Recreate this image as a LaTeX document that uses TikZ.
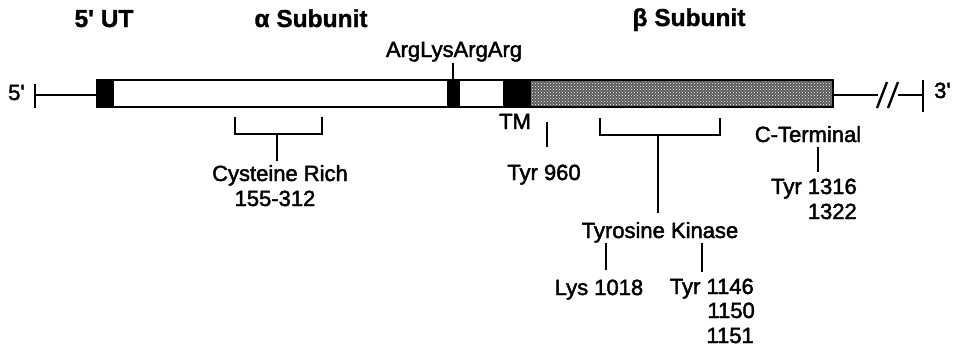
\documentclass[tikz,border=0pt]{standalone}
\usepackage{fontspec}
\setmainfont{Liberation Sans}
\newfontfamily\lblfont{Liberation Sans}[FakeBold=2]
\newfontfamily\hdrfont{Liberation Sans Bold}[FakeBold=1.2]
\usetikzlibrary{patterns}
\begin{document}
\begin{tikzpicture}[x=1pt,y=-1pt,
  lbl/.style={inner sep=0pt,font=\lblfont\fontsize{22}{25}\selectfont},
  hdr/.style={inner sep=0pt,font=\hdrfont\fontsize{24.5}{27}\selectfont},
  tick/.style={line width=2pt},
  barline/.style={line width=2.6pt},
  blk/.style={fill=black},
  stip/.style={preaction={fill=black!65},pattern=crosshatch dots,pattern color=white}]
\useasboundingbox (0,0) rectangle (957,349);
% headers
\node[hdr,anchor=base] (ut) at (104,27) {5' UT};
\node[hdr,anchor=base] (alpha) at (311,27) {α Subunit};
\node[hdr,anchor=base] (beta) at (689,26) {β Subunit};
% ends
\node[lbl,anchor=base west] (five) at (8,100) {5'};
\node[lbl,anchor=base west] (three) at (934,98) {3'};
% backbone
\coordinate (t5a) at (35,84);
\coordinate (t5b) at (35,108);
\coordinate (t5m) at (35,95);
\coordinate (barL) at (97,95);
\coordinate (barR) at (833,95);
\coordinate (s1) at (878,95);
\coordinate (s2) at (898,95);
\coordinate (t3m) at (923,95);
\coordinate (t3a) at (923,80);
\coordinate (t3b) at (923,112);
\draw[tick] (t5a) -- (t5b);
\draw[tick] (t5m) -- (barL);
\draw[tick] (barR) -- (s1);
\draw[tick,line width=2.4pt] (877,108) -- (887,82);
\draw[tick,line width=2.4pt] (888,108) -- (898,82);
\draw[tick] (s2) -- (t3m);
\draw[tick] (t3a) -- (t3b);
% bar
\fill[white] (97,80) rectangle (833,107);
\fill[blk] (97,80) rectangle (114,107);
\fill[blk] (447,80) rectangle (460,107);
\fill[blk] (503,80) rectangle (531,107);
\path[stip] (531,80) rectangle (833,107);
\draw[barline] (97,80) rectangle (833,107);
% ArgLysArgArg
\node[lbl,anchor=base] (arg) at (454,57) {ArgLysArgArg};
\coordinate (argb) at (453,80);
\draw[tick] (453,63) -- (argb);
% TM
\node[lbl,anchor=base] (tm) at (515,129) {TM};
% Cysteine rich
\coordinate (c1) at (235,117);
\coordinate (c2) at (235,134);
\coordinate (c3) at (322,134);
\coordinate (c4) at (322,117);
\coordinate (cs) at (277,134);
\coordinate (cse) at (277,161);
\draw[tick] (c1) -- (c2) -- (c3) -- (c4);
\draw[tick] (cs) -- (cse);
\node[lbl,anchor=base] (cys) at (280,181) {Cysteine Rich};
\node[lbl,anchor=base] (cysn) at (275,206) {155-312};
% Tyr 960
\coordinate (y960a) at (547,122);
\coordinate (y960b) at (547,147);
\draw[tick] (y960a) -- (y960b);
\node[lbl,anchor=base] (tyr960) at (544,180) {Tyr 960};
% Tyrosine kinase
\coordinate (k1) at (600,118);
\coordinate (k2) at (600,135);
\coordinate (k3) at (720,135);
\coordinate (k4) at (720,118);
\coordinate (ks) at (658,135);
\coordinate (kse) at (658,213);
\draw[tick] (k1) -- (k2) -- (k3) -- (k4);
\draw[tick] (ks) -- (kse);
\node[lbl,anchor=base] (tk) at (660,238) {Tyrosine Kinase};
\coordinate (l1) at (606,243);
\coordinate (l2) at (606,270);
\draw[tick] (l1) -- (l2);
\coordinate (m1) at (702,243);
\coordinate (m2) at (702,272);
\draw[tick] (m1) -- (m2);
\node[lbl,anchor=base] (lys) at (599,295) {Lys 1018};
\node[lbl,anchor=base east] (y1146) at (754,294) {Tyr 1146};
\node[lbl,anchor=base east] (y1150) at (755,318) {1150};
\node[lbl,anchor=base east] (y1151) at (754,343) {1151};
% C-terminal
\node[lbl,anchor=base] (ct) at (808,142) {C-Terminal};
\coordinate (ct1) at (818,147);
\coordinate (ct2) at (818,172);
\draw[tick] (ct1) -- (ct2);
\node[lbl,anchor=base east] (y1316) at (857,194) {Tyr 1316};
\node[lbl,anchor=base east] (y1322) at (857,219) {1322};
\end{tikzpicture}
\end{document}
